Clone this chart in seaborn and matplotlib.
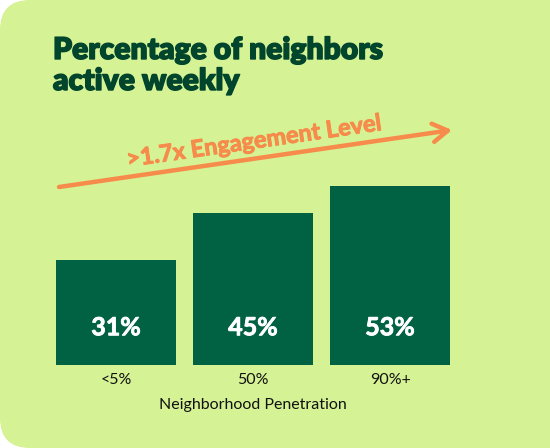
import matplotlib
matplotlib.use("Agg")
import matplotlib.pyplot as plt
import matplotlib.patheffects as pe
import seaborn as sns
import pandas as pd
from matplotlib.patches import FancyBboxPatch
from matplotlib.transforms import IdentityTransform

# data
categories = ['<5%', '50%', '90%+']
values = [31, 45, 53]
value_labels = ['31%', '45%', '53%']

bg = '#d5f294'
bar_color = '#006242'
title_color = '#00452c'
orange = '#f78b4b'

sns.set_theme(style='white')
plt.rcParams['font.family'] = ['Lato', 'DejaVu Sans']

df = pd.DataFrame({'penetration': categories, 'active': values})

fig = plt.figure(figsize=(5.5, 4.48), dpi=100, facecolor='white')

# rounded card background (left corners rounded only)
card = FancyBboxPatch((0, 0), 600, 448, boxstyle='round,pad=0,rounding_size=30',
                      transform=IdentityTransform(), facecolor=bg, edgecolor='none',
                      zorder=-5)
fig.patches.append(card)

ax = fig.add_axes([0.0864, 0.1853, 0.7473, 0.4531])
ax.set_facecolor('none')
sns.barplot(data=df, x='penetration', y='active', color=bar_color,
            saturation=1, width=0.876, ax=ax)
for p in ax.patches:
    p.set_edgecolor('none')

ax.set_xlim(-0.5, 2.5)
ax.set_ylim(0, 60)
for i, lab in enumerate(value_labels):
    ax.text(i, 11, lab, ha='center', va='center', color='white',
            fontsize=18, fontweight='bold',
            path_effects=[pe.withStroke(linewidth=0.6, foreground='white')])

sns.despine(ax=ax, left=True, bottom=True)
ax.set_yticks([])
ax.set_ylabel('')
ax.tick_params(axis='x', length=0, pad=6, labelsize=11.5, labelcolor='#111111')
ax.set_xlabel('Neighborhood Penetration', fontsize=11.5, color='#111111', labelpad=8)

# title
for txt, yy in [('Percentage of neighbors', 389), ('active weekly', 358)]:
    t = fig.text(53, yy, txt, fontsize=21.6, fontweight='heavy',
                 color=title_color, va='baseline', ha='left',
                 path_effects=[pe.withStroke(linewidth=1.0, foreground=title_color)])
    t.set_transform(IdentityTransform())

# engagement arrow
ax.annotate('', xy=(452, 318), xytext=(59, 261), xycoords='figure pixels',
            textcoords='figure pixels',
            arrowprops=dict(arrowstyle='->,head_length=0.9,head_width=0.55',
                            color=orange, lw=3.2, capstyle='round',
                            joinstyle='round', shrinkA=0, shrinkB=0),
            annotation_clip=False)
t = fig.text(254, 307, '>1.7x Engagement Level', fontsize=17,
             fontweight='bold', color=orange, ha='center', va='center',
             rotation=8.25, rotation_mode='anchor',
             path_effects=[pe.withStroke(linewidth=0.7, foreground=orange)])
t.set_transform(IdentityTransform())

fig.savefig('out.png', dpi=100, facecolor='white')
